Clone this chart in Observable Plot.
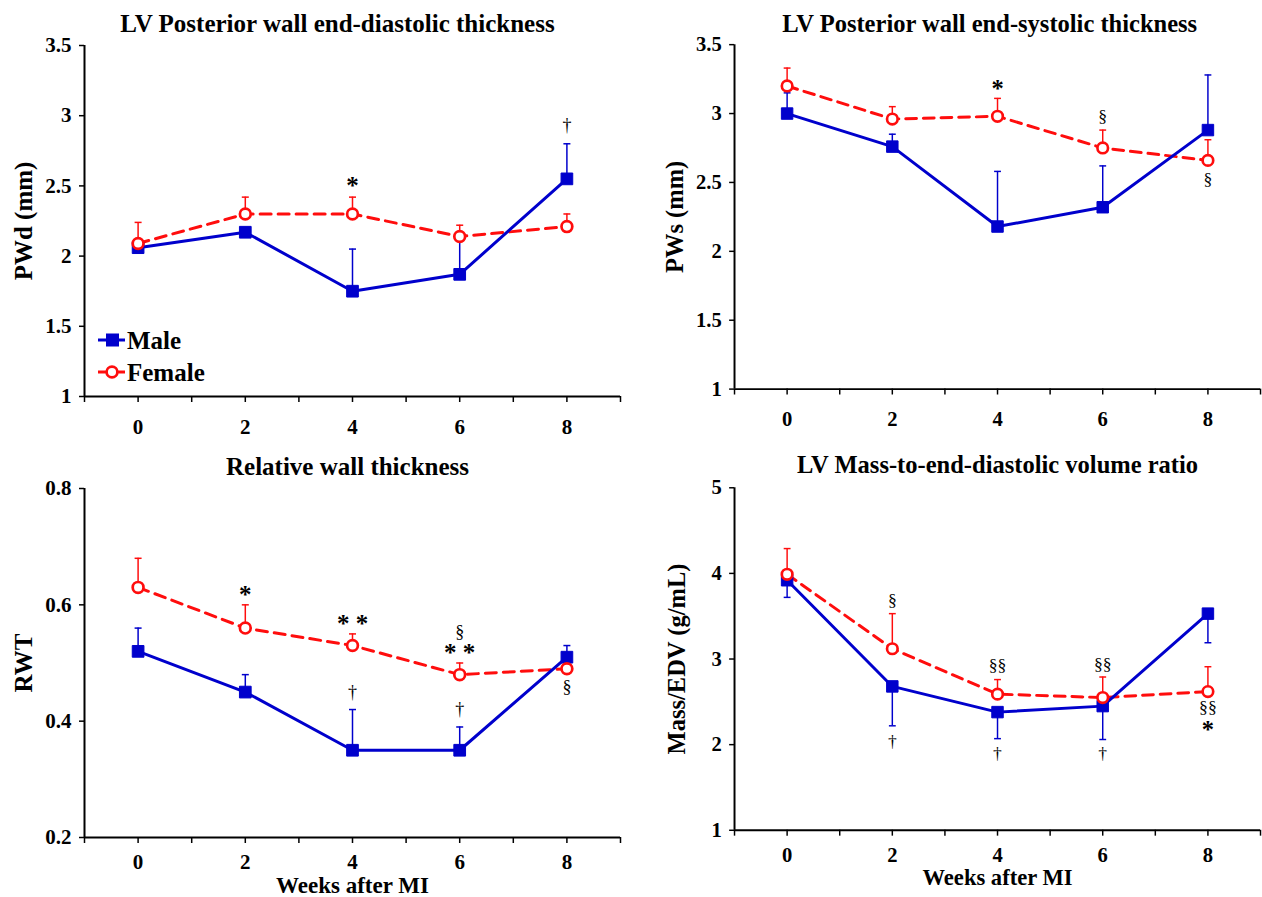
<!DOCTYPE html>
<html>
<head>
<meta charset="utf-8">
<script src="https://cdn.jsdelivr.net/npm/d3@7"></script>
<script src="https://cdn.jsdelivr.net/npm/@observablehq/plot@0.6"></script>
<style>
  html, body { margin: 0; padding: 0; background: #fff; }
  body { width: 1262px; height: 897px; position: relative; overflow: hidden; font-family: "Liberation Serif", "Times New Roman", serif; }
  .panel { position: absolute; }
  .panel svg { display: block; }
</style>
</head>
<body>
<div id="fig"></div>
<script>
// ---------------- data ----------------
const weeks = [0, 2, 4, 6, 8];
const xTickValues = [-1, 0, 1, 2, 3, 4, 5, 6, 7, 8, 9];

// Panel A: LV posterior wall end-diastolic thickness (mm)
const pwdMale      = [2.06, 2.17, 1.75, 1.87, 2.55];
const pwdMaleErr   = [null, null, 2.05, 2.12, 2.80];
const pwdFemale    = [2.09, 2.30, 2.30, 2.14, 2.21];
const pwdFemaleErr = [2.24, 2.42, 2.42, 2.22, 2.30];
const pwdTicks     = [1, 1.5, 2, 2.5, 3, 3.5];
const pwdNotes     = [{x: 4, y: 2.51, t: "*"}, {x: 8, y: 2.93, t: "†"}];

// Panel B: LV posterior wall end-systolic thickness (mm)
const pwsMale      = [3.00, 2.76, 2.18, 2.32, 2.88];
const pwsMaleErr   = [3.15, 2.85, 2.58, 2.62, 3.28];
const pwsFemale    = [3.20, 2.96, 2.98, 2.75, 2.66];
const pwsFemaleErr = [3.33, 3.05, 3.11, 2.88, 2.81];
const pwsTicks     = [1, 1.5, 2, 2.5, 3, 3.5];
const pwsNotes     = [{x: 4, y: 3.19, t: "*"}, {x: 6, y: 2.98, t: "§"}, {x: 8, y: 2.52, t: "§"}];

// Panel C: Relative wall thickness
const rwtMale      = [0.52, 0.45, 0.35, 0.35, 0.51];
const rwtMaleErr   = [0.56, 0.48, 0.42, 0.39, 0.53];
const rwtFemale    = [0.63, 0.56, 0.53, 0.48, 0.49];
const rwtFemaleErr = [0.68, 0.60, 0.55, 0.50, null];
const rwtTicks     = [0.2, 0.4, 0.6, 0.8];
const rwtNotes     = [{x: 2, y: 0.62, t: "*"}, {x: 4, y: 0.57, t: "* *"}, {x: 6, y: 0.52, t: "* *"},
                      {x: 6, y: 0.553, t: "§"}, {x: 4, y: 0.45, t: "†"}, {x: 6, y: 0.42, t: "†"}, {x: 8, y: 0.459, t: "§"}];

// Panel D: LV mass-to-end-diastolic volume ratio (g/mL)
const medvMale      = [3.92, 2.68, 2.38, 2.45, 3.53];
const medvMaleErr   = [3.72, 2.22, 2.07, 2.06, 3.19];
const medvFemale    = [3.99, 3.12, 2.59, 2.55, 2.62];
const medvFemaleErr = [4.29, 3.53, 2.76, 2.79, 2.91];
const medvTicks     = [1, 2, 3, 4, 5];
const medvNotes     = [{x: 2, y: 3.69, t: "§"}, {x: 4, y: 2.93, t: "§§"}, {x: 6, y: 2.94, t: "§§"},
                       {x: 8, y: 2.44, t: "§§"}, {x: 8, y: 2.19, t: "*"},
                       {x: 2, y: 2.04, t: "†"}, {x: 4, y: 1.90, t: "†"}, {x: 6, y: 1.90, t: "†"}];

const seriesNames = ["Male", "Female"];

// ---------------- styling ----------------
const BLUE = "#0000cc";
const RED = "#ff0d0d";
const FONT = "'Liberation Serif', 'Times New Roman', serif";

const capSymbol = { draw(ctx) { ctx.moveTo(-3.5, 0); ctx.lineTo(3.5, 0); } };

function panel(cfg) {
  const rows = (vals, err) => weeks.map((w, i) => ({week: w, v: vals[i], e: err[i]}));
  const male = rows(cfg.male, cfg.maleErr);
  const female = rows(cfg.female, cfg.femaleErr);
  const mErr = male.filter(d => d.e != null);
  const fErr = female.filter(d => d.e != null);
  const y0 = cfg.yTicks[0];
  const stars = cfg.notes.filter(d => d.t.includes("*"));
  const others = cfg.notes.filter(d => !d.t.includes("*"));

  const marks = [
    // axes lines
    Plot.ruleY([y0], {stroke: "black", strokeWidth: 2}),
    Plot.ruleX([-1], {stroke: "black", strokeWidth: 2}),
    Plot.axisX({ticks: xTickValues, tickFormat: d => (d >= 0 && d <= 8 && d % 2 === 0) ? String(d) : "",
                tickSize: 6, tickPadding: cfg.xlabel ? 11 : 17, strokeWidth: 1.5, fontSize: 21, fontWeight: "bold", fill: "black", label: null}),
    Plot.axisY({ticks: cfg.yTicks, tickFormat: d => String(d), tickSize: 5, tickPadding: 8,
                strokeWidth: 1.5, fontSize: 21, fontWeight: "bold", fill: "black", label: null}),
    // error bars
    Plot.ruleX(fErr, {x: "week", y1: "v", y2: "e", stroke: RED, strokeWidth: 1.5}),
    Plot.dot(fErr, {x: "week", y: "e", symbol: capSymbol, stroke: RED, strokeWidth: 1.5, fill: "none"}),
    Plot.ruleX(mErr, {x: "week", y1: "v", y2: "e", stroke: BLUE, strokeWidth: 1.5}),
    Plot.dot(mErr, {x: "week", y: "e", symbol: capSymbol, stroke: BLUE, strokeWidth: 1.5, fill: "none"}),
    // lines
    Plot.line(female, {x: "week", y: "v", stroke: RED, strokeWidth: 3, strokeDasharray: "11,7"}),
    Plot.line(male, {x: "week", y: "v", stroke: BLUE, strokeWidth: 3}),
    // markers
    Plot.dot(male, {x: "week", y: "v", symbol: "square", r: 6.6, fill: BLUE, stroke: BLUE, strokeWidth: 1}),
    Plot.dot(female, {x: "week", y: "v", r: 5.4, fill: "white", stroke: RED, strokeWidth: 2.7}),
    // annotations
    Plot.text(stars, {x: "x", y: "y", text: "t", fontSize: 25, fontWeight: "bold", fill: "black", dy: 2}),
    Plot.text(others, {x: "x", y: "y", text: "t", fontSize: 18, fill: "black"}),
    // title and axis labels
    Plot.text([cfg.title], {frameAnchor: "top", lineAnchor: "middle", textAnchor: "middle", dy: cfg.titleDy, dx: cfg.titleDx,
                            fontSize: 25, fontWeight: "bold", fill: "black"}),
    Plot.text([cfg.ylabel], {frameAnchor: "left", lineAnchor: "middle", textAnchor: "middle", dx: cfg.ylabelDx,
                             rotate: -90, fontSize: 25, fontWeight: "bold", fill: "black"})
  ];
  if (cfg.xlabel) {
    marks.push(Plot.text([cfg.xlabel], {frameAnchor: "bottom", lineAnchor: "middle", textAnchor: "middle", dy: 48,
                                        fontSize: 23, fontWeight: "bold", fill: "black"}));
  }

  const svg = Plot.plot({
    width: cfg.width, height: cfg.height,
    marginLeft: cfg.ml, marginRight: cfg.mr, marginTop: cfg.mt, marginBottom: cfg.mb,
    x: {domain: [-1, 9]},
    y: {domain: [cfg.yTicks[0], cfg.yTicks[cfg.yTicks.length - 1]]},
    style: {fontFamily: FONT, background: "white", color: "black", overflow: "visible"},
    marks
  });
  const div = document.createElement("div");
  div.className = "panel";
  div.style.left = cfg.left + "px";
  div.style.top = cfg.top + "px";
  div.appendChild(svg);
  document.getElementById("fig").appendChild(div);
}

panel({left: 0, top: 0, width: 630, height: 450, ml: 84, mr: 10, mt: 45, mb: 54,
       male: pwdMale, maleErr: pwdMaleErr, female: pwdFemale, femaleErr: pwdFemaleErr,
       yTicks: pwdTicks, notes: pwdNotes, title: "LV Posterior wall end-diastolic thickness",
       titleDy: -22, titleDx: -15, ylabel: "PWd (mm)", ylabelDx: -61});
panel({left: 630, top: 0, width: 644, height: 450, ml: 106, mr: 2, mt: 45, mb: 54,
       male: pwsMale, maleErr: pwsMaleErr, female: pwsFemale, femaleErr: pwsFemaleErr,
       yTicks: pwsTicks, notes: pwsNotes, title: "LV Posterior wall end-systolic thickness",
       titleDy: -21, titleDx: -8, ylabel: "PWs (mm)", ylabelDx: -60});
panel({left: 0, top: 450, width: 630, height: 447, ml: 84, mr: 10, mt: 38, mb: 60,
       male: rwtMale, maleErr: rwtMaleErr, female: rwtFemale, femaleErr: rwtFemaleErr,
       yTicks: rwtTicks, notes: rwtNotes, title: "Relative wall thickness",
       titleDy: -22, titleDx: -5, ylabel: "RWT", ylabelDx: -61, xlabel: "Weeks after MI"});
panel({left: 630, top: 450, width: 644, height: 447, ml: 106, mr: 2, mt: 38, mb: 60,
       male: medvMale, maleErr: medvMaleErr, female: medvFemale, femaleErr: medvFemaleErr,
       yTicks: medvTicks, notes: medvNotes, title: "LV Mass-to-end-diastolic volume ratio",
       titleDy: -23, titleDx: 0, ylabel: "Mass/EDV (g/mL)", ylabelDx: -58, xlabel: "Weeks after MI"});

// ---------------- legend (inside panel A) ----------------
const legend = d3.select("#fig").append("svg")
  .attr("width", 130).attr("height", 70)
  .style("position", "absolute").style("left", "95px").style("top", "320px")
  .style("font-family", FONT);
const legColors = [BLUE, RED];
seriesNames.forEach((name, i) => {
  const g = legend.append("g").attr("transform", `translate(0, ${20 + i * 32})`);
  g.append("line").attr("x1", 3).attr("x2", 30).attr("y1", 0).attr("y2", 0)
    .attr("stroke", legColors[i]).attr("stroke-width", 3);
  if (i === 0) {
    g.append("rect").attr("x", 11).attr("y", -6.5).attr("width", 13).attr("height", 13).attr("fill", BLUE);
  } else {
    g.append("circle").attr("cx", 17).attr("cy", 0).attr("r", 5.4).attr("fill", "white")
      .attr("stroke", RED).attr("stroke-width", 2.7);
  }
  g.append("text").attr("x", 32).attr("y", 0).attr("dy", "0.35em")
    .attr("font-size", 25).attr("font-weight", "bold").attr("fill", "black").text(name);
});
</script>
</body>
</html>
